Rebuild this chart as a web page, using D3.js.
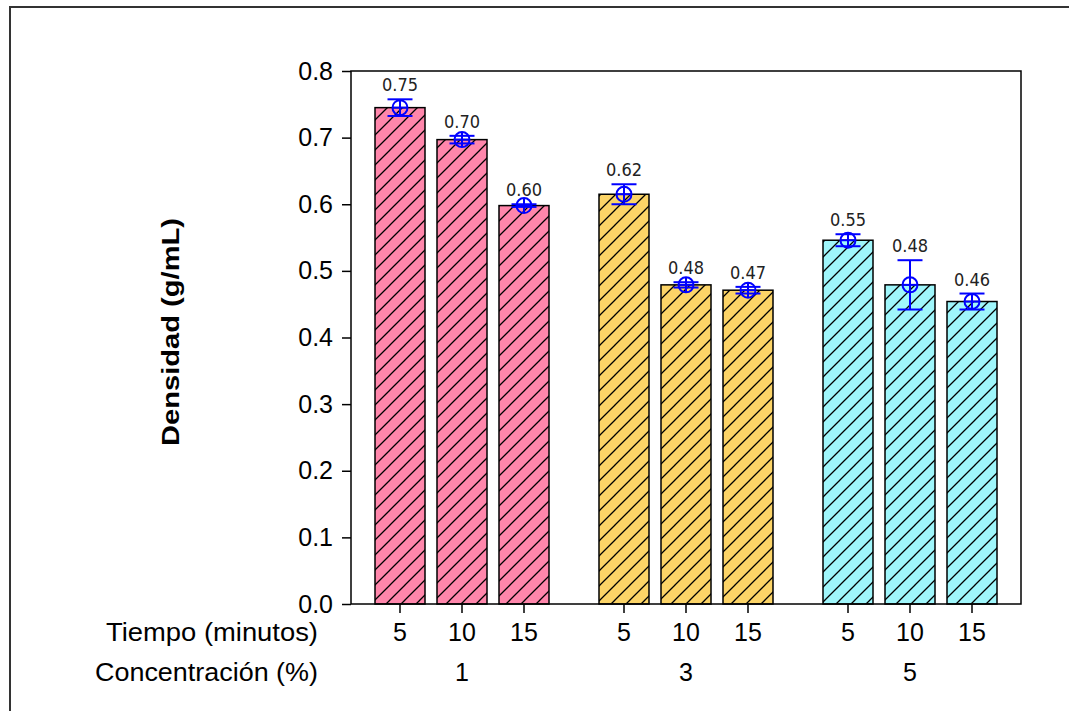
<!DOCTYPE html>
<html><head><meta charset="utf-8">
<script src="https://cdn.jsdelivr.net/npm/d3@7"></script>
<style>
html,body{margin:0;padding:0;background:#fff;}
svg{display:block;}
</style></head>
<body>
<svg id="chart" width="1069" height="711"></svg>
<script>
const concentrations = ["1", "3", "5"];
const times = ["5", "10", "15"];
const densityMeans = [0.745, 0.697, 0.598, 0.615, 0.479, 0.471, 0.546, 0.479, 0.454];
const densityErrors = [0.0125, 0.0057, 0.002, 0.015, 0.004, 0.005, 0.009, 0.037, 0.012];
const valueLabels = ["0.75", "0.70", "0.60", "0.62", "0.48", "0.47", "0.55", "0.48", "0.46"];
const groupColors = ["#ff86ab", "#fcd467", "#9ff6fb"];
const yTicks = [0, 0.1, 0.2, 0.3, 0.4, 0.5, 0.6, 0.7, 0.8];

const data = [];
concentrations.forEach((c, gi) => times.forEach((t, ti) => {
  const i = gi * times.length + ti;
  data.push({conc: c, time: t, mean: densityMeans[i], err: densityErrors[i], label: valueLabels[i], color: groupColors[gi], gi});
}));

const svg = d3.select("#chart");
const plot = {left: 351, right: 1021, top: 71, bottom: 604};
const FONT = "'Liberation Sans', Arial, sans-serif";

// outer frame
svg.append("rect").attr("x", 10).attr("y", 7).attr("width", 1100).attr("height", 800)
  .attr("fill", "none").attr("stroke", "#333").attr("stroke-width", 2);

const defs = svg.append("defs");
groupColors.forEach((col, gi) => {
  const p = defs.append("pattern").attr("id", "hatch" + gi).attr("patternUnits", "userSpaceOnUse")
    .attr("width", 15).attr("height", 15);
  p.append("rect").attr("width", 15).attr("height", 15).attr("fill", col);
  p.append("path").attr("d", "M-2,17 L17,-2 M-4,4 L4,-4 M11,19 L19,11")
    .attr("stroke", "#000").attr("stroke-width", 1.3);
});

const x0 = d3.scaleBand().domain(concentrations).range([plot.left, plot.right])
  .paddingInner(38 / 224).paddingOuter(18 / 224);
const x1 = d3.scaleBand().domain(times).range([0, x0.bandwidth()])
  .paddingInner(12 / 62).paddingOuter(6 / 62);
const y = d3.scaleLinear().domain([0, 0.8]).range([plot.bottom, plot.top]);

const cx = d => x0(d.conc) + x1(d.time) + x1.bandwidth() / 2;

// bars
svg.append("g").selectAll("rect").data(data).join("rect")
  .attr("x", d => x0(d.conc) + x1(d.time))
  .attr("y", d => y(d.mean))
  .attr("width", x1.bandwidth())
  .attr("height", d => y(0) - y(d.mean))
  .attr("fill", d => `url(#hatch${d.gi})`)
  .attr("stroke", "#000").attr("stroke-width", 1.5);

// plot frame
svg.append("rect").attr("x", plot.left).attr("y", plot.top)
  .attr("width", plot.right - plot.left).attr("height", plot.bottom - plot.top)
  .attr("fill", "none").attr("stroke", "#000").attr("stroke-width", 1.5);

// y axis
const yAxis = svg.append("g").attr("transform", `translate(${plot.left},0)`)
  .call(d3.axisLeft(y).tickValues(yTicks).tickFormat(d3.format(".1f")).tickSize(9).tickPadding(9));
yAxis.select(".domain").remove();
yAxis.selectAll("line").attr("stroke", "#000").attr("stroke-width", 1.5);
yAxis.selectAll("text").attr("font-family", FONT)
  .attr("font-size", 25).attr("fill", "#000");

// x axis ticks
const xAxisG = svg.append("g");
xAxisG.selectAll("line").data(data).join("line")
  .attr("x1", cx).attr("x2", cx).attr("y1", plot.bottom).attr("y2", plot.bottom + 9)
  .attr("stroke", "#000").attr("stroke-width", 1.5);
xAxisG.selectAll("text.time").data(data).join("text").attr("class", "time")
  .attr("x", cx).attr("y", 641).attr("text-anchor", "middle")
  .attr("font-family", FONT).attr("font-size", 25)
  .text(d => d.time);
xAxisG.selectAll("text.conc").data(concentrations).join("text").attr("class", "conc")
  .attr("x", d => x0(d) + x0.bandwidth() / 2).attr("y", 681).attr("text-anchor", "middle")
  .attr("font-family", FONT).attr("font-size", 25)
  .text(d => d);
xAxisG.append("text").attr("x", 318).attr("y", 641).attr("text-anchor", "end")
  .attr("font-family", FONT).attr("font-size", 25)
  .attr("textLength", 212).attr("lengthAdjust", "spacingAndGlyphs")
  .text("Tiempo (minutos)");
xAxisG.append("text").attr("x", 318).attr("y", 681).attr("text-anchor", "end")
  .attr("font-family", FONT).attr("font-size", 25)
  .attr("textLength", 223).attr("lengthAdjust", "spacingAndGlyphs")
  .text("Concentración (%)");

// y title
svg.append("text").attr("transform", `translate(179,${(218 + 446) / 2}) rotate(-90)`)
  .attr("text-anchor", "middle").attr("font-family", FONT)
  .attr("font-weight", "bold").attr("font-size", 23)
  .attr("textLength", 228).attr("lengthAdjust", "spacingAndGlyphs")
  .text("Densidad (g/mL)");

// error bars
const eb = svg.append("g").attr("stroke", "#0000ff").attr("stroke-width", 2).attr("fill", "none");
const capW = 12.5, r = 7.5;
data.forEach(d => {
  const x = cx(d);
  eb.append("line").attr("x1", x).attr("x2", x).attr("y1", y(d.mean + d.err)).attr("y2", y(d.mean - d.err));
  eb.append("line").attr("x1", x - capW).attr("x2", x + capW).attr("y1", y(d.mean + d.err)).attr("y2", y(d.mean + d.err));
  eb.append("line").attr("x1", x - capW).attr("x2", x + capW).attr("y1", y(d.mean - d.err)).attr("y2", y(d.mean - d.err));
  eb.append("circle").attr("cx", x).attr("cy", y(d.mean)).attr("r", r);
  eb.append("line").attr("x1", x - r).attr("x2", x + r).attr("y1", y(d.mean)).attr("y2", y(d.mean));
  eb.append("line").attr("x1", x).attr("x2", x).attr("y1", y(d.mean) - r).attr("y2", y(d.mean) + r);
});

// value labels
svg.append("g").selectAll("text").data(data).join("text")
  .attr("x", cx).attr("y", d => y(d.mean + d.err) - 8)
  .attr("text-anchor", "middle")
  .attr("font-family", "'DejaVu Sans Condensed', 'DejaVu Sans', sans-serif")
  .attr("font-stretch", "condensed").attr("font-size", 18).attr("fill", "#222")
  .text(d => d.label);
</script>
</body></html>
